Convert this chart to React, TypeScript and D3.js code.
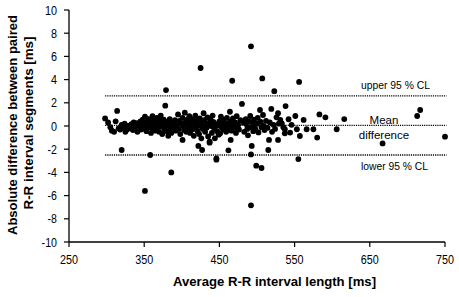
import React from "react";
import * as d3 from "d3";

const xTicks = [250, 350, 450, 550, 650, 750];
const yTicks = [-10, -8, -6, -4, -2, 0, 2, 4, 6, 8, 10];

const meanDiff = 0.05;
const upperCL = 2.6;
const lowerCL = -2.5;
const lineStart = 298;
const lineEnd = 752;

// Average R-R interval length [ms]
const avgRR: number[] = [
  379, 425, 467, 492, 507, 523, 556, 717, 713, 750, 667, 616, 583, 591, 606,
  320, 358, 386, 351, 427, 446, 492, 499, 506, 492, 555, 462, 515, 401, 422, 437, 465, 528, 493,
  519, 538, 528, 526, 531, 533, 517, 542, 551, 562, 537, 544, 537, 553, 566, 575, 557, 580, 516,
  480, 464, 504, 508, 491, 404, 426, 437, 444, 451, 446,
  298, 302, 305, 307, 310, 312, 314, 316, 318, 320, 322, 324, 325, 327, 329, 331, 333, 335, 336, 338,
  340, 341, 343, 345, 346, 348, 349, 350, 351, 352, 353, 355, 356, 357, 358, 359, 360, 361, 362, 363,
  364, 365, 366, 367, 368, 369, 370, 371, 372, 373, 374, 375, 376, 377, 378, 379, 380, 381, 382, 383,
  384, 385, 386, 388, 390, 391, 392, 393, 395, 396, 397, 398, 399, 401, 402, 403, 405, 406, 407, 408,
  409, 410, 411, 412, 413, 414, 415, 416, 417, 418, 419, 420, 421, 422, 423, 424, 425, 427, 428, 429,
  430, 431, 432, 433, 434, 435, 436, 438, 439, 440, 441, 442, 443, 445, 447, 448, 449, 450, 452, 453,
  454, 455, 456, 458, 459, 460, 461, 462, 465, 466, 467, 468, 470, 471, 472, 473, 475, 476, 478, 482,
  483, 485, 486, 487, 488, 489, 492, 494, 495, 496, 497, 498, 500, 501, 502, 505, 506, 509, 510, 512,
  514, 520, 522, 524, 529, 535, 546
];

// Absolute difference between paired R-R interval segments [ms]
const diffRR: number[] = [
  3.1, 5.0, 3.9, 6.87, 4.1, 3.0, 3.8, 1.38, 0.86, -0.92, -1.5, 0.6, 1.0, 0.75, -0.28,
  -2.07, -2.5, -4.0, -5.6, -2.07, -2.9, -2.45, -3.42, -3.62, -6.84, -2.85, -2.1, -2.07, -1.2, -1.72, -1.44, -1.2, -1.2, -1.72,
  1.47, 1.72, 1.1, 0.75, 0.52, 0.23, 0.32, 0.58, 0.86, 0.52, -0.28, -0.57, -0.63, -0.28, -0.28, -0.28, -0.86, -1.0, -1.2,
  1.9, 1.23, 1.38, 0.95, 0.86, 1.15, -1.06, -1.35, -1.06, -0.63, -2.8,
  0.65, 0.3, -0.1, -0.4, -0.5, 0.4, 1.3, -0.2, -0.3, 0.1, -0.15, 0.2, -0.5, -0.3, 0.0, -0.2, 0.15, -0.35, 0.3, -0.1,
  0.25, -0.5, 0.0, 0.4, -0.3, 0.55, 0.1, -0.2, 0.8, 0.3, -0.45, 0.05, 0.6, -0.1, 0.35, -0.6, 0.2, 0.85, -0.25, 0.5,
  0.0, -0.4, 0.3, 0.7, -0.15, 0.1, -0.5, 0.45, 0.9, -0.05, -0.7, 0.25, 0.55, -0.3, 1.75, 0.0, -0.45, 0.35, -0.85, 0.15,
  0.6, -0.2, -0.6, 0.3, -0.1, 0.5, -0.4, 0.1, 1.0, -0.25, 0.45, -0.7, 0.2, 0.7, 0.0, -0.35, 0.3, -0.5, 0.55, 0.1,
  -0.2, 0.85, -0.6, 0.35, 0.0, -0.3, 0.6, -0.85, 0.2, 0.9, -0.1, 0.45, -0.45, 0.15, -0.7, 0.65, 0.0, 0.3, -0.25, 1.1,
  0.5, -0.5, 0.1, -0.15, 0.75, -0.9, 0.25, 0.55, 0.0, -0.6, 0.9, 0.35, -0.2, 0.15, -0.45, 0.05, -0.75, 0.4, 0.8, -0.1,
  0.25, -0.3, 0.55, 0.0, -0.5, 0.7, 0.2, -0.2, 0.4, -0.4, 0.0, 0.65, -0.15, 0.3, -0.6, 0.85, 0.1, -0.3, 0.5, 0.3,
  -0.5, 0.6, 0.15, -0.25, -0.8, 0.4, -0.1, 0.3, -0.45, 0.55, 0.05, -0.3, 0.2, 0.7, -0.55, 0.35, -0.1, 0.0, -0.35, 0.45,
  -0.15, -0.5, 0.1, -0.25, 0.2, -0.1, 0.1
];

function labelLen(s: string): number {
  let w = 0;
  for (const c of s) w += c === "-" ? 3.4 : 6.0;
  return w;
}

export default function App() {
  const W = 459, H = 297;
  const x = d3.scaleLinear().domain([250, 750]).range([69, 445]);
  const y = d3.scaleLinear().domain([-10, 10]).range([242, 10]);
  const font = "'Liberation Sans', Arial, sans-serif";
  const pts = avgRR.map((v, i) => [v, diffRR[i]] as [number, number]);
  const refLines = [upperCL, meanDiff, lowerCL];

  return (
    <svg width={W} height={H} style={{ position: "absolute", left: 0, top: 0, background: "#fff" }}
      fontFamily={font}>
      {refLines.map((v, i) => (
        <line key={"r" + i} x1={x(lineStart)} x2={x(lineEnd)} y1={y(v)} y2={y(v)}
          stroke="#000" strokeWidth={1.4} strokeDasharray="1.2,1" />
      ))}
      {pts.map((p, i) => (
        <circle key={"p" + i} cx={x(p[0])} cy={y(p[1])} r={2.9} fill="#000" />
      ))}
      <line x1={x(250)} x2={x(250)} y1={y(-10)} y2={y(10)} stroke="#000" strokeWidth={1.3} />
      <line x1={x(250)} x2={x(750)} y1={y(-10)} y2={y(-10)} stroke="#000" strokeWidth={1.3} />
      {yTicks.map((t) => (
        <g key={"yt" + t}>
          <line x1={x(250) - 5} x2={x(250)} y1={y(t)} y2={y(t)} stroke="#000" strokeWidth={1.2} />
          <text x={57} y={y(t)} dy="0.36em" textAnchor="end" fontSize={12.5}
            textLength={labelLen(String(t))} lengthAdjust="spacingAndGlyphs">{t}</text>
        </g>
      ))}
      {xTicks.map((t) => (
        <g key={"xt" + t}>
          <line x1={x(t)} x2={x(t)} y1={y(-10)} y2={y(-10) + 5} stroke="#000" strokeWidth={1.2} />
          <text x={x(t)} y={264} textAnchor="middle" fontSize={12.5}
            textLength={labelLen(String(t))} lengthAdjust="spacingAndGlyphs">{t}</text>
        </g>
      ))}
      <text x={361} y={89} fontSize={11.5} textLength={69} lengthAdjust="spacingAndGlyphs">upper 95 % CL</text>
      <text x={384} y={123.5} fontSize={11.5} textAnchor="middle">Mean</text>
      <text x={384} y={139} fontSize={11.5} textAnchor="middle">difference</text>
      <text x={361} y={170} fontSize={11.5} textLength={67} lengthAdjust="spacingAndGlyphs">lower 95 % CL</text>
      <text x={274.5} y={286} textAnchor="middle" fontSize={13.5} fontWeight="bold"
        textLength={203} lengthAdjust="spacingAndGlyphs">Average R-R interval length [ms]</text>
      <text transform={`translate(17,125) rotate(-90)`} textAnchor="middle" fontSize={13.5} fontWeight="bold"
        textLength={220} lengthAdjust="spacingAndGlyphs">Absolute difference between paired</text>
      <text transform={`translate(32.5,123) rotate(-90)`} textAnchor="middle" fontSize={13.5} fontWeight="bold"
        textLength={173} lengthAdjust="spacingAndGlyphs">R-R interval segments [ms]</text>
    </svg>
  );
}
